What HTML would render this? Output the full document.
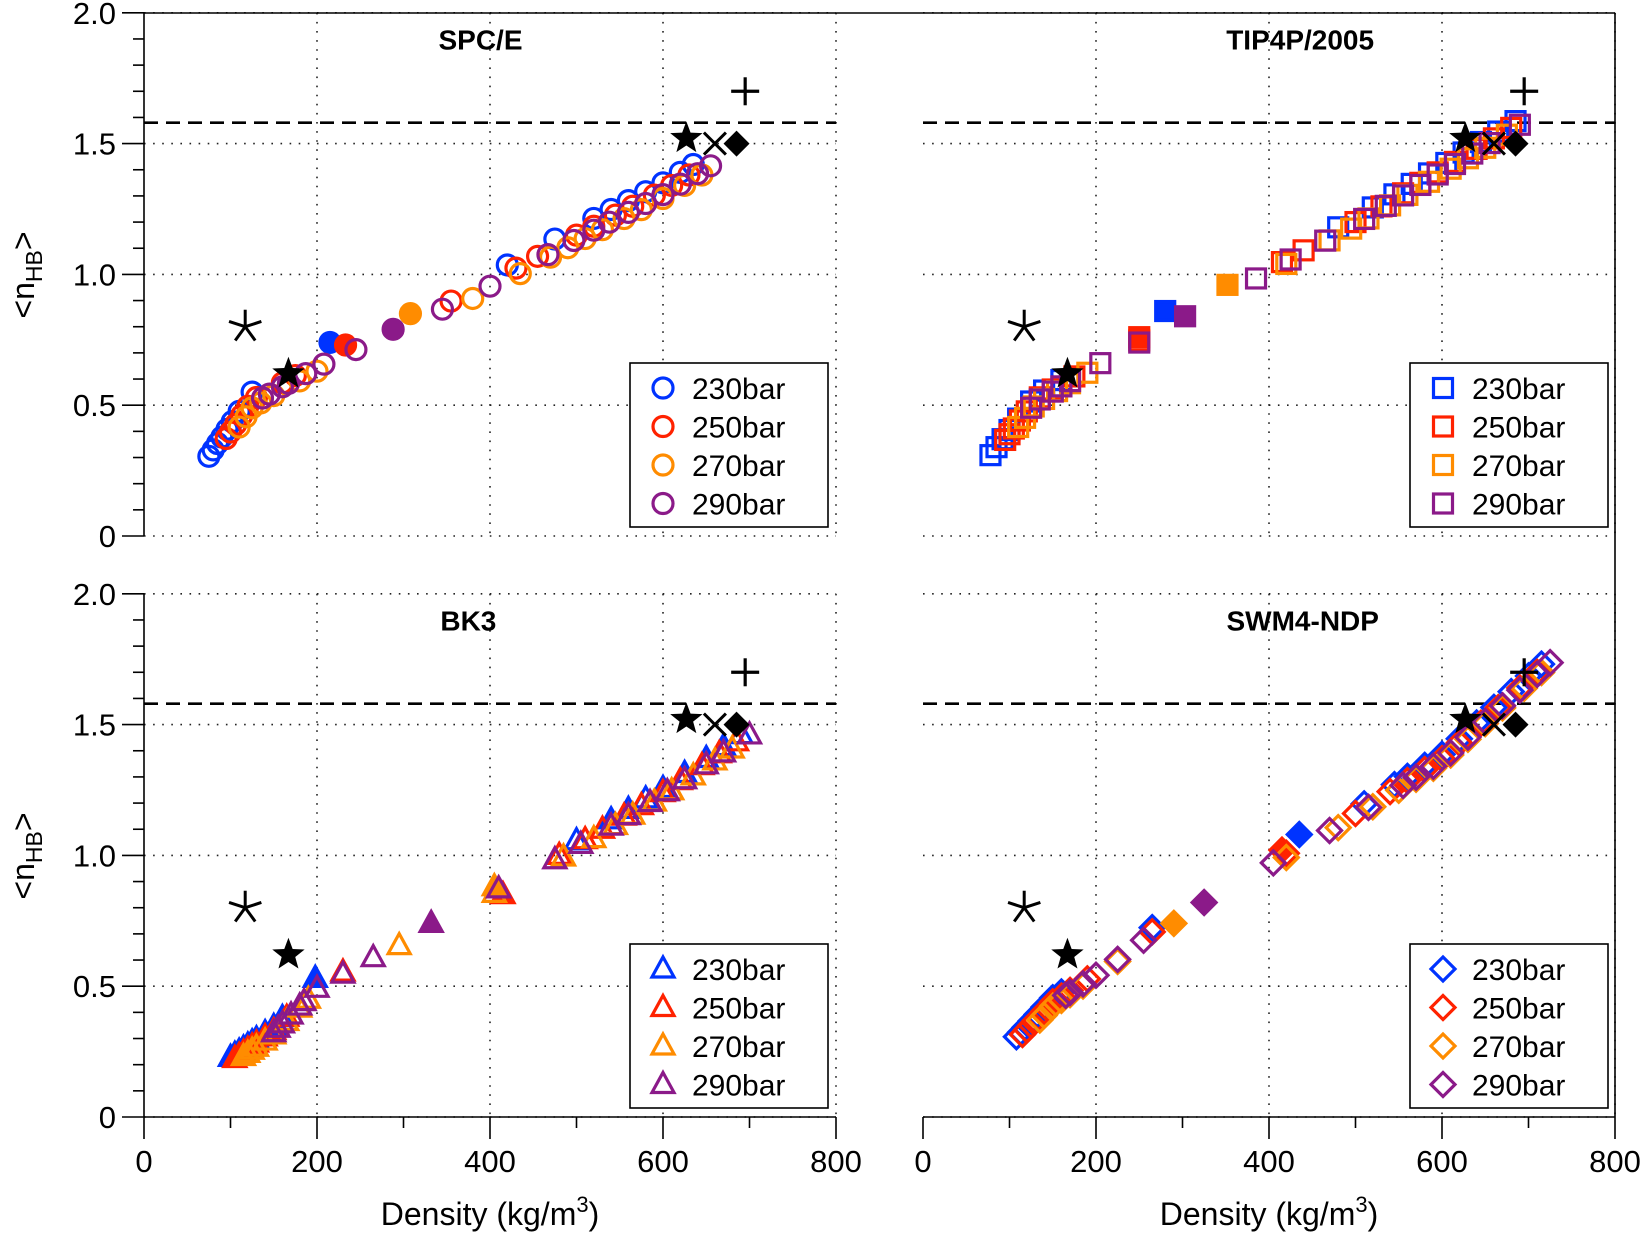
<!DOCTYPE html>
<html><head><meta charset="utf-8"><style>
html,body{margin:0;padding:0;background:#fff}
svg{display:block}
text{font-family:"Liberation Sans",sans-serif}
</style></head><body>
<svg id="s" width="1645" height="1234" viewBox="0 0 1645 1234" xmlns="http://www.w3.org/2000/svg"></svg>
<script>
const S=document.getElementById('s');let h='';
const C={b:'#0033ff',r:'#ff2200',o:'#ff8c00',p:'#8b1a89'};
const P=[
 {x0:144,x1:836,y0:536,t:'SPC/E',m:'c',lx:630,ly:363,tx:389},
 {x0:923,x1:1615,y0:536,t:'TIP4P/2005',m:'s',lx:1410,ly:363,tx:436},
 {x0:144,x1:836,y0:1117,t:'BK3',m:'t',lx:630,ly:944,tx:375},
 {x0:923,x1:1615,y0:1117,t:'SWM4-NDP',m:'d',lx:1410,ly:944,tx:439}];
const U=261.6;
function X(p,v){return p.x0+v*(p.x1-p.x0)/800}
function Y(p,v){return p.y0-v*U}
function mk(type,x,y,col,fill){
 const sw=3.2, f=fill?col:'none';
 if(type=='c')return `<circle cx="${x}" cy="${y}" r="10" fill="${f}" stroke="${col}" stroke-width="${sw}"/>`;
 if(type=='s')return `<rect x="${x-9.5}" y="${y-9.5}" width="19" height="19" fill="${f}" stroke="${col}" stroke-width="${sw}"/>`;
 if(type=='t')return `<polygon points="${x},${y-12} ${x+11},${y+8} ${x-11},${y+8}" fill="${f}" stroke="${col}" stroke-width="${sw}"/>`;
 if(type=='d')return `<polygon points="${x},${y-12} ${x+12},${y} ${x},${y+12} ${x-12},${y}" fill="${f}" stroke="${col}" stroke-width="${sw}"/>`;
}
function interp(pts,x){for(let i=0;i<pts.length-1;i++){if(x<=pts[i+1][0]||i==pts.length-2){const a=pts[i],b=pts[i+1];return a[1]+(b[1]-a[1])*(x-a[0])/(b[0]-a[0]);}}}
const curves=[
 [[70,0.25],[125,0.52],[200,0.66],[300,0.81],[400,0.97],[500,1.15],[600,1.32],[680,1.48]],
 [[75,0.28],[130,0.52],[200,0.66],[280,0.8],[400,1.02],[500,1.2],[600,1.4],[700,1.6]],
 [[95,0.2],[150,0.33],[200,0.5],[300,0.68],[410,0.88],[480,1.0],[600,1.24],[705,1.48]],
 [[105,0.28],[150,0.44],[200,0.55],[270,0.72],[400,0.97],[500,1.16],[600,1.37],[730,1.76]]];
const D=[
 [[75,80,85,90,96,102,110,125,420,475,520,540,560,580,600,620,635],
  [95,100,106,113,120,130,160,175,355,430,455,500,520,545,565,590,610,630],
  [110,118,125,135,150,180,200,380,435,470,490,510,530,555,575,600,625,645],
  [137,145,160,167,187,208,245,345,400,467,497,520,538,560,580,600,620,640,655]],
 [[78,85,92,100,110,125,140,160,480,520,545,565,585,605,625,645,665,685],
  [95,100,105,112,120,135,150,175,250,415,440,500,530,555,575,595,615,640,660,680],
  [110,118,128,140,155,170,190,420,470,495,515,540,560,585,610,630,650,675],
  [125,135,150,160,170,205,250,385,425,465,510,535,555,575,595,615,635,655,690]],
 [[100,105,110,115,120,125,130,140,150,160,500,540,560,580,600,625,650,670,690],
  [105,110,115,120,125,130,140,150,165,230,480,510,530,555,575,600,620,645,665,685],
  [115,120,125,130,140,150,165,180,190,295,405,485,520,545,565,590,610,635,660,680],
  [150,155,160,170,180,185,200,230,265,410,475,505,540,560,585,605,625,650,670,700]],
 [[108,113,118,125,132,140,150,160,265,510,545,560,580,600,620,640,660,680,700,715],
  [115,120,125,130,140,150,160,170,190,265,420,500,540,560,580,600,620,645,665,690,710],
  [135,140,150,160,170,185,225,420,480,520,550,570,590,610,630,650,670,695,715],
  [165,170,185,200,225,255,405,470,515,555,570,590,610,630,650,670,690,710,725]]];
const offs=[0.02,0.0,-0.02,-0.01];
const fills=[
 [[215,0.74],[233,0.73],[308,0.85],[288,0.79]],
 [[280,0.86],[250,0.76],[352,0.96],[303,0.84]],
 [[198,0.53],[415,0.85],[405,0.88],[332,0.74]],
 [[435,1.08],[415,1.02],[290,0.74],[325,0.82]]];
const lbl=['230bar','250bar','270bar','290bar'];
P.forEach((p,i)=>{
 let g='';
 [200,400,600,800].forEach(v=>{g+=`<line x1="${X(p,v)}" y1="${Y(p,2)}" x2="${X(p,v)}" y2="${p.y0}"/>`});
 [0,0.5,1,1.5,2].forEach(v=>{g+=`<line x1="${p.x0}" y1="${Y(p,v)}" x2="${p.x1}" y2="${Y(p,v)}"/>`});
 h+=`<g stroke="#222" stroke-width="1.6" stroke-dasharray="1.6 7.5">${g}</g>`;
 if(i%2==0){
  h+=`<line x1="${p.x0}" y1="${Y(p,2)}" x2="${p.x0}" y2="${p.y0}" stroke="#000" stroke-width="1.6"/>`;
  for(let k=0;k<=20;k++){const y=Y(p,k/10);const L=k%5==0?22:11;h+=`<line x1="${p.x0-L}" y1="${y}" x2="${p.x0}" y2="${y}" stroke="#000" stroke-width="1.6"/>`;}
  ['0','0.5','1.0','1.5','2.0'].forEach((t,k)=>{h+=`<text x="${p.x0-28}" y="${Y(p,k*0.5)+11}" font-size="31" text-anchor="end">${t}</text>`});
  h+=`<text transform="translate(34,${p.y0-261}) rotate(-90)" font-size="32" text-anchor="middle">&lt;n<tspan font-size="23" dy="8">HB</tspan><tspan dy="-8">&gt;</tspan></text>`;
 }
 if(i>=2){
  h+=`<line x1="${p.x0}" y1="${p.y0}" x2="${p.x1}" y2="${p.y0}" stroke="#000" stroke-width="1.6"/>`;
  for(let k=0;k<=8;k++){const x=X(p,k*100);const L=k%2==0?22:11;h+=`<line x1="${x}" y1="${p.y0}" x2="${x}" y2="${p.y0+L}" stroke="#000" stroke-width="1.6"/>`;}
  [0,200,400,600,800].forEach(v=>{h+=`<text x="${X(p,v)}" y="1172" font-size="31" text-anchor="middle">${v}</text>`});
  h+=`<text x="${(p.x0+p.x1)/2}" y="1225" font-size="32" text-anchor="middle">Density (kg/m<tspan font-size="22" dy="-13">3</tspan><tspan dy="13">)</tspan></text>`;
 }
 h+=`<text x="${X(p,p.tx)}" y="${Y(p,1.86)}" font-size="28" font-weight="bold" text-anchor="middle">${p.t}</text>`;
 h+=`<line x1="${p.x0}" y1="${Y(p,1.58)}" x2="${p.x1}" y2="${Y(p,1.58)}" stroke="#000" stroke-width="2.6" stroke-dasharray="14 8"/>`;
 D[i].forEach((arr,j)=>{
  const col=C['brop'[j]];
  arr.forEach(d=>{h+=mk(p.m,X(p,d),Y(p,interp(curves[i],d)+offs[j]*(i==0?1.5:0.8)),col,false);});
  const fp=fills[i][j];
  h+=mk(p.m,X(p,fp[0]),Y(p,fp[1]),col,true);
 });
 const ax=X(p,117),ay=Y(p,0.8);
 let a='';for(let k=0;k<5;k++){const an=(-90+k*72)*Math.PI/180;a+=`<line x1="${ax}" y1="${ay}" x2="${ax+17*Math.cos(an)}" y2="${ay+17*Math.sin(an)}"/>`;}
 h+=`<g stroke="#000" stroke-width="3">${a}</g>`;
 function star(x,y,r){let pts='';for(let k=0;k<10;k++){const rr=k%2?r*0.42:r;const an=(-90+k*36)*Math.PI/180;pts+=`${x+rr*Math.cos(an)},${y+rr*Math.sin(an)} `;}return `<polygon points="${pts}" fill="#000"/>`;}
 h+=star(X(p,167),Y(p,0.62),17);
 h+=star(X(p,627),Y(p,1.52),17);
 const xx=X(p,660),xy=Y(p,1.5);
 h+=`<g stroke="#000" stroke-width="3"><line x1="${xx-11}" y1="${xy-11}" x2="${xx+11}" y2="${xy+11}"/><line x1="${xx-11}" y1="${xy+11}" x2="${xx+11}" y2="${xy-11}"/></g>`;
 const dx=X(p,685),dy=Y(p,1.5);
 h+=`<polygon points="${dx},${dy-13} ${dx+13},${dy} ${dx},${dy+13} ${dx-13},${dy}" fill="#000"/>`;
 const px=X(p,695),py=Y(p,1.7);
 h+=`<g stroke="#000" stroke-width="3.2"><line x1="${px-14}" y1="${py}" x2="${px+14}" y2="${py}"/><line x1="${px}" y1="${py-14}" x2="${px}" y2="${py+14}"/></g>`;
 h+=`<rect x="${p.lx}" y="${p.ly}" width="198" height="164" fill="#fff" stroke="#000" stroke-width="1.6"/>`;
 lbl.forEach((t,k)=>{const y=p.ly+25+k*38.5;h+=mk(p.m,p.lx+33,y,C['brop'[k]],false);h+=`<text x="${p.lx+62}" y="${y+11}" font-size="30">${t}</text>`;});
});
h+=`<line x1="144" y1="13" x2="1615" y2="13" stroke="#000" stroke-width="1.6"/>`;
h+=`<line x1="1615" y1="13" x2="1615" y2="1117" stroke="#000" stroke-width="1.6"/>`;
S.innerHTML=h;
</script>
</body></html>
